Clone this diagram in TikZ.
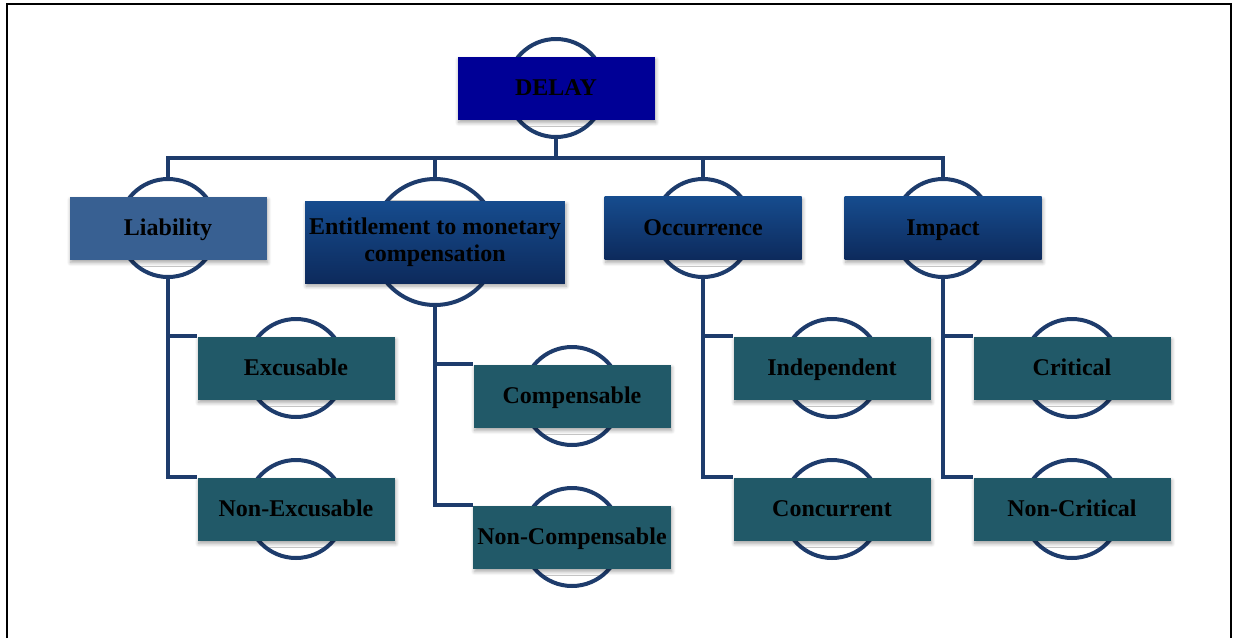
\documentclass[tikz,border=0pt]{standalone}
\usepackage{fontspec}
\setmainfont{Liberation Serif}
\usetikzlibrary{shadows.blur,backgrounds}

\definecolor{rootblue}{RGB}{0,0,150}
\definecolor{liablue}{RGB}{56,96,146}
\definecolor{headtop}{RGB}{22,76,142}
\definecolor{headbottom}{RGB}{13,42,92}
\definecolor{leafteal}{RGB}{33,89,104}
\definecolor{linkblue}{RGB}{30,60,108}

\begin{document}
\begin{tikzpicture}
[
    x = 0.5pt, y = -0.5pt,
    every node/.append style = {anchor = center, align = center, text = black, font = \bfseries\fontsize{12}{13.5}\selectfont},
    box/.style = {minimum width = 98.5pt, minimum height = 31.5pt, inner sep = 2pt, text height = 9pt, text depth = 2pt,
        blur shadow = {shadow xshift = 0.6pt, shadow yshift = -1.6pt, shadow blur steps = 6, shadow opacity = 35}},
    rootbox/.style = {box, fill = rootblue},
    headbox/.style = {box, top color = headtop, bottom color = headbottom},
    leafbox/.style = {box, fill = leafteal},
    ring/.style = {draw = linkblue, line width = 2pt, fill = white},
    link/.style = {draw = linkblue, line width = 2pt}]

\useasboundingbox (0,0) rectangle (1233,638);
\draw[line width = 1.2pt] (7,638) -- (7,4) -- (1231,4) -- (1231,638);

\node[rootbox] (delay) at (556,88) {DELAY};
\node[box, fill = liablue] (liab) at (168,228) {Liability};
\node[headbox, minimum width = 127.5pt, minimum height = 41pt, text height = {}, text depth = {}] (entit) at (435,242) {Entitlement to monetary\\compensation};
\node[headbox] (occur) at (703,228) {Occurrence};
\node[headbox] (impact) at (943,228) {Impact};
\node[leafbox] (excus) at (296,368) {Excusable};
\node[leafbox] (nonexcus) at (296,509) {Non-Excusable};
\node[leafbox] (compen) at (572,396) {Compensable};
\node[leafbox] (noncompen) at (572,537) {Non-Compensable};
\node[leafbox] (indep) at (832,368) {Independent};
\node[leafbox] (concur) at (832,509) {Concurrent};
\node[leafbox] (crit) at (1072,368) {Critical};
\node[leafbox] (noncrit) at (1072,509) {Non-Critical};

\begin{scope}[on background layer]
    \coordinate (bus) at (556,158);
    \draw[link] (delay.center) -- (bus);
    \foreach \head in {liab, entit, occur, impact}
        \draw[link] (bus) -| (\head.center);
    \foreach \head/\leaf in {liab/excus, liab/nonexcus, entit/compen, entit/noncompen,
        occur/indep, occur/concur, impact/crit, impact/noncrit}
        \draw[link] (\head.center) |- (\leaf.north west);
    \foreach \n/\r in {delay/24.5pt, liab/24.5pt, entit/31.5pt, occur/24.5pt, impact/24.5pt,
        excus/24.5pt, nonexcus/24.5pt, compen/24.5pt, noncompen/24.5pt,
        indep/24.5pt, concur/24.5pt, crit/24.5pt, noncrit/24.5pt}
        \draw[ring] (\n) circle[radius = \r];
\end{scope}

\end{tikzpicture}
\end{document}
